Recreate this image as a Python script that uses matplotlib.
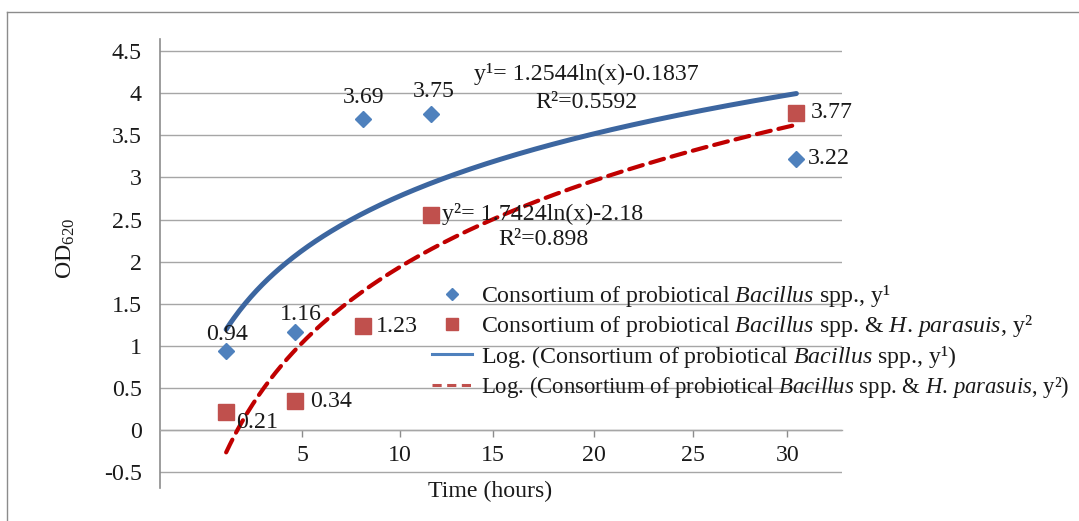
import numpy as np
import matplotlib
matplotlib.use("Agg")
import matplotlib.pyplot as plt
from matplotlib.lines import Line2D

plt.rcParams['font.family'] = ['Liberation Serif', 'DejaVu Serif']
plt.rcParams['mathtext.fontset'] = 'custom'
plt.rcParams['mathtext.rm'] = 'Liberation Serif'
plt.rcParams['mathtext.it'] = 'Liberation Serif:italic'
plt.rcParams['mathtext.bf'] = 'Liberation Serif:bold'
plt.rcParams['axes.unicode_minus'] = False

# ---- data ----
time_h = [3, 6, 9, 12, 28]
od_bacillus = [0.94, 1.16, 3.69, 3.75, 3.22]
od_bacillus_hp = [0.21, 0.34, 1.23, 2.55, 3.77]
labels_bacillus = ['0.94', '1.16', '3.69', '3.75', '3.22']
labels_bacillus_hp = ['0.21', '0.34', '1.23', '', '3.77']
eq1_text = 'y¹= 1.2544ln(x)-0.1837\nR²=0.5592'
eq2_text = 'y²= 1.7424ln(x)-2.18\nR²=0.898'
xtick_labels = ['5', '10', '15', '20', '25', '30']
xtick_pos = [6.34, 10.62, 14.69, 19.14, 23.45, 27.6]   # where the labels sit in the picture
ytick_vals = [-0.5, 0, 0.5, 1, 1.5, 2, 2.5, 3, 3.5, 4, 4.5]
ytick_labels = ['-0.5', '0', '0.5', '1', '1.5', '2', '2.5', '3', '3.5', '4', '4.5']

leg1 = r'Consortium of probiotical $\mathit{Bacillus}$ spp., y¹'
leg2 = r'Consortium of probiotical $\mathit{Bacillus}$ spp. & $\mathit{H}$. $\mathit{parasuis}$, y²'
leg3 = r'Log. (Consortium of probiotical $\mathit{Bacillus}$ spp., y¹)'
leg4 = r'Log. (Consortium of probiotical $\mathit{Bacillus}$ spp. & $\mathit{H}$. $\mathit{parasuis}$, y²)'

# ---- figure ----
W, H = 1079, 521
fig = plt.figure(figsize=(W / 100, H / 100), dpi=100)
px = lambda x: x / W
py = lambda y: 1 - y / H

ax = fig.add_axes([px(160), py(488), px(842) - px(160), py(39) - py(488)])
ax.set_xlim(0.1, 30)
ax.set_ylim(-0.689, 4.644)

FS = 17.2
TXT = '#1a1a1a'
GRID = '#a6a6a6'

# outer border
fig.add_artist(Line2D([px(7), 1.0], [py(12), py(12)], color='#8c8c8c', lw=1.0))
fig.add_artist(Line2D([px(7), px(7)], [py(12), 0.0], color='#8c8c8c', lw=1.0))

# grid
ax.set_yticks(ytick_vals)
ax.set_yticklabels(ytick_labels, fontsize=FS, color=TXT)
ax.yaxis.grid(True, color=GRID, lw=1.0)
ax.set_axisbelow(True)
ax.tick_params(axis='y', length=0, pad=13)

for s in ['top', 'right']:
    ax.spines[s].set_visible(False)
ax.spines['left'].set_color('#8c8c8c')
ax.spines['left'].set_linewidth(1.2)
ax.spines['bottom'].set_position(('data', 0))
ax.spines['bottom'].set_color(GRID)
ax.spines['bottom'].set_linewidth(1.0)

ax.set_xticks(xtick_pos)
ax.set_xticklabels(xtick_labels, fontsize=FS, color=TXT)
ax.tick_params(axis='x', direction='out', length=5, width=1.0, color='#8c8c8c', pad=6.0)

# trend lines (log fit over data range)
t = np.array(time_h, dtype=float)
tt = np.linspace(t.min(), t.max(), 300)
c1 = np.polyfit(np.log(t), np.array(od_bacillus), 1)
c2 = np.polyfit(np.log(t), np.array(od_bacillus_hp), 1)
ax.plot(tt, c1[0] * np.log(tt) + c1[1], color='#3c66a0', lw=3.6,
        solid_capstyle='round', zorder=3)
ax.plot(tt, c2[0] * np.log(tt) + c2[1], color='#c00000', lw=3.0,
        dashes=(3.4, 1.9), dash_capstyle='round', zorder=3)

# points
ax.plot(time_h, od_bacillus, linestyle='none', marker='D', ms=8.6,
        color='#4f81bd', mec='#4f81bd', zorder=4)
ax.plot(time_h, od_bacillus_hp, linestyle='none', marker='s', ms=11.0,
        color='#c0504d', mec='#c0504d', zorder=4)

# data labels (offsets in points)
k = 0.72
off1 = [(1 * k, 16 * k, 'center'), (6 * k, 18 * k, 'center'), (1 * k, 22 * k, 'center'),
        (2 * k, 23 * k, 'center'), (11 * k, 0, 'left')]
for x, y, lab, (dx, dy, ha) in zip(time_h, od_bacillus, labels_bacillus, off1):
    ax.annotate(lab, (x, y), xytext=(dx, dy), textcoords='offset points',
                ha=ha, va='center', fontsize=FS, color=TXT, zorder=5)
off2 = [(10 * k, -10 * k), (16 * k, 0), (13 * k, 0), (12 * k, 0), (14 * k, 0)]
for x, y, lab, (dx, dy) in zip(time_h, od_bacillus_hp, labels_bacillus_hp, off2):
    if lab:
        ax.annotate(lab, (x, y), xytext=(dx, dy), textcoords='offset points',
                    ha='left', va='center', fontsize=FS, color=TXT, zorder=5)

# equation labels
fig.text(px(586), py(88), eq1_text, ha='center', va='center', fontsize=FS,
         color=TXT, linespacing=1.42)
fig.text(px(543), py(226.5), eq2_text, ha='center', va='center', fontsize=FS,
         color=TXT, linespacing=1.25)

# axis labels
fig.text(px(66), py(248), r'OD$_{620}$', rotation=90, ha='center', va='center',
         fontsize=FS, color=TXT)
fig.text(px(490), py(491), 'Time (hours)', ha='center', va='center',
         fontsize=FS, color=TXT)

# legend
handles = [
    Line2D([], [], linestyle='none', marker='D', ms=6.2, color='#4f81bd'),
    Line2D([], [], linestyle='none', marker='s', ms=8.4, color='#c0504d'),
    Line2D([], [], color='#4f81bd', lw=2.2),
    Line2D([], [], color='#c0504d', lw=2.2, dashes=(3.0, 1.8)),
]
leg = fig.legend(handles, [leg1, leg2, leg3, leg4], loc='upper left',
                 bbox_to_anchor=(px(432), py(283)), frameon=False, fontsize=FS,
                 handlelength=1.68, handletextpad=0.38, labelspacing=0.18,
                 borderpad=0, borderaxespad=0)
for txt in leg.get_texts():
    txt.set_color(TXT)
leg.get_texts()[3].set_fontsize(16.4)

fig.savefig('out.png', dpi=100)
